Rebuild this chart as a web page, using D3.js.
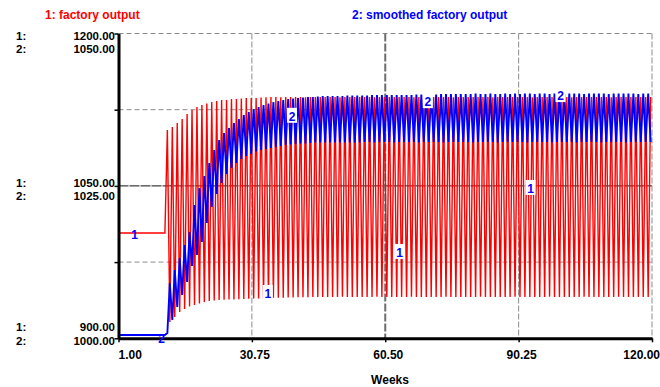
<!DOCTYPE html>
<html>
<head>
<meta charset="utf-8">
<script src="https://cdn.jsdelivr.net/npm/d3@7"></script>
<style>
  body { margin: 0; background: #fff; }
  text { font-family: "Liberation Sans", Arial, sans-serif; font-weight: bold; }
</style>
</head>
<body>
<svg width="660" height="387"></svg>
<script>
// weeks: flat start, then an oscillation sampled every half cycle
const startWeek = 1;
const oscStartWeek = 11.9;
const halfCycle = 0.55;

const xTicks = [1, 30.75, 60.5, 90.25, 120];
const xTickLabels = ['1.00', '30.75', '60.50', '90.25', '120.00'];
const y1Ticks = [1200, 1050, 900];
const y1TickLabels = ['1200.00', '1050.00', '900.00'];
const y2Ticks = [1050, 1025, 1000];
const y2TickLabels = ['1050.00', '1025.00', '1000.00'];

// 1: factory output
const outputInitial = 1003.6;
const outputHighs = [
  1105.0, 1108.0, 1111.9, 1115.8, 1120.7, 1124.6, 1127.6, 1129.6, 1131.1, 1132.6,
  1133.6, 1134.5, 1134.5, 1135.5, 1135.5, 1136.0, 1136.5, 1136.5, 1136.5, 1137.0,
  1137.3, 1137.5, 1137.5, 1137.3, 1137.5, 1137.6, 1137.5, 1137.5, 1137.3, 1137.5,
  1137.5, 1137.6, 1137.5, 1137.5, 1137.5, 1137.3, 1137.5, 1137.5, 1137.6, 1137.5,
  1137.5, 1137.5, 1137.3, 1137.5, 1137.5, 1137.5, 1137.6, 1137.5, 1137.5, 1137.5,
  1137.3, 1137.5, 1137.5, 1137.5, 1137.6, 1137.5, 1137.5, 1137.5, 1137.3, 1137.5,
  1137.5, 1137.5, 1137.6, 1137.5, 1137.5, 1137.5, 1137.3, 1137.5, 1137.5, 1137.5,
  1137.6, 1137.5, 1137.5, 1137.5, 1137.3, 1137.5, 1137.5, 1137.5, 1137.6, 1137.5,
  1137.5, 1137.5, 1137.3, 1137.5, 1137.5, 1137.5, 1137.6, 1137.5, 1137.5, 1137.5,
  1137.3, 1137.5, 1137.5, 1137.5, 1137.6, 1137.5, 1137.5, 1137.5, 1137.5
];
const outputLows = [
  916.0, 921.0, 925.9, 928.8, 931.3, 932.8, 934.3, 935.7, 936.7, 937.2,
  937.7, 937.9, 938.1, 938.3, 938.5, 938.7, 938.9, 939.1, 939.3, 939.5,
  939.7, 939.8, 939.9, 940.0, 940.1, 940.2, 940.3, 940.4, 940.5, 940.6,
  940.7, 940.7, 940.6, 940.7, 940.7, 940.8, 940.7, 940.7, 940.6, 940.7,
  940.7, 940.7, 940.8, 940.7, 940.7, 940.6, 940.7, 940.7, 940.7, 940.8,
  940.7, 940.7, 940.6, 940.7, 940.7, 940.7, 940.8, 940.7, 940.7, 940.6,
  940.7, 940.7, 940.7, 940.8, 940.7, 940.7, 940.6, 940.7, 940.7, 940.7,
  940.8, 940.7, 940.7, 940.6, 940.7, 940.7, 940.7, 940.8, 940.7, 940.7,
  940.6, 940.7, 940.7, 940.7, 940.8, 940.7, 940.7, 940.6, 940.7, 940.7,
  940.7, 940.8, 940.7, 940.7, 940.6, 940.7, 940.7, 940.7
];

// 2: smoothed factory output
const smoothedInitial = 1000.54;
const smoothedLows = [
  1000.87, 1003.00, 1005.13, 1007.10, 1009.23, 1011.86, 1013.66, 1015.80, 1018.91, 1021.54,
  1023.67, 1025.48, 1026.95, 1027.94, 1028.76, 1029.41, 1029.90, 1030.23, 1030.64, 1030.89,
  1031.05, 1031.22, 1031.38, 1031.54, 1031.71, 1031.79, 1031.87, 1031.95, 1031.95, 1032.04,
  1032.12, 1032.12, 1032.12, 1032.12, 1032.12, 1032.12, 1032.12, 1032.12, 1032.12, 1032.12,
  1032.20, 1032.20, 1032.12, 1032.20, 1032.20, 1032.20, 1032.12, 1032.20, 1032.20, 1032.20,
  1032.20, 1032.12, 1032.20, 1032.20, 1032.20, 1032.20, 1032.12, 1032.20, 1032.20, 1032.20,
  1032.20, 1032.20, 1032.12, 1032.20, 1032.20, 1032.20, 1032.20, 1032.12, 1032.20, 1032.20,
  1032.20, 1032.20, 1032.20, 1032.12, 1032.20, 1032.20, 1032.20, 1032.20, 1032.12, 1032.20,
  1032.20, 1032.20, 1032.20, 1032.12, 1032.20, 1032.20, 1032.20, 1032.20, 1032.12, 1032.20,
  1032.20, 1032.20, 1032.20, 1032.12, 1032.20, 1032.20, 1032.20, 1032.20, 1032.20
];
const smoothedHighs = [
  1009.07, 1011.20, 1013.17, 1015.30, 1017.44, 1021.87, 1024.66, 1026.63, 1028.76, 1030.89,
  1032.53, 1033.68, 1034.50, 1035.32, 1035.97, 1036.63, 1037.12, 1037.61, 1037.94, 1038.27,
  1038.52, 1038.76, 1038.93, 1039.09, 1039.26, 1039.34, 1039.42, 1039.50, 1039.58, 1039.58,
  1039.67, 1039.75, 1039.75, 1039.75, 1039.75, 1039.75, 1039.83, 1039.83, 1039.83, 1039.83,
  1039.83, 1039.91, 1039.91, 1039.91, 1039.91, 1039.91, 1039.91, 1039.91, 1039.91, 1039.91,
  1039.99, 1039.99, 1039.99, 1039.99, 1039.99, 1040.07, 1040.07, 1040.07, 1040.07, 1040.07,
  1040.07, 1040.07, 1040.16, 1040.07, 1040.07, 1040.16, 1040.07, 1040.07, 1040.16, 1040.07,
  1040.16, 1040.07, 1040.16, 1040.16, 1040.07, 1040.16, 1040.16, 1040.07, 1040.16, 1040.16,
  1040.07, 1040.16, 1040.16, 1040.16, 1040.07, 1040.16, 1040.16, 1040.16, 1040.16, 1040.07,
  1040.16, 1040.16, 1040.16, 1040.16, 1040.16, 1040.07, 1040.16, 1040.16
];

// series markers ("1"/"2") drawn on the curves
const label1Weeks = [4.6, 34.3, 63.7, 92.9];
const label1Values = [1003.0, 944.6, 985.0, 1048.0];
const label2Weeks = [10.6, 39.7, 70.0, 99.6];
const label2Values = [1000.0, 1036.5, 1038.9, 1039.9];

const red = '#ff0000';
const blue = '#0000ff';

const svg = d3.select('svg');

const x = d3.scaleLinear().domain([1, 120]).range([118.5, 652]);
const y1 = d3.scaleLinear().domain([900, 1200]).range([338.3, 33.5]);
const y2 = d3.scaleLinear().domain([1000, 1050]).range([338.3, 33.5]);

const interleave = (a, b) => {
    const out = [];
    for (let i = 0; i < a.length; i++) {
        out.push(a[i]);
        if (i < b.length) out.push(b[i]);
    }
    return out;
};

const buildSeries = (initial, vals) => {
    const pts = [[startWeek, initial], [oscStartWeek - halfCycle, initial]];
    vals.forEach((v, i) => pts.push([oscStartWeek + i * halfCycle, v]));
    return pts;
};

const outputSeries = buildSeries(outputInitial, interleave(outputHighs, outputLows));
const smoothedSeries = buildSeries(smoothedInitial, interleave(smoothedLows, smoothedHighs));

// grid
const grid = svg.append('g');
[1125, 975].forEach(v => {
    grid.append('line')
        .attr('x1', x(1)).attr('x2', x(120))
        .attr('y1', y1(v)).attr('y2', y1(v))
        .attr('stroke', '#8c8c8c').attr('stroke-dasharray', '5,3');
});
grid.append('line')
    .attr('x1', x(1)).attr('x2', x(120))
    .attr('y1', y1(1200)).attr('y2', y1(1200))
    .attr('stroke', '#8c8c8c').attr('stroke-dasharray', '5,3');
grid.append('line')
    .attr('x1', x(1)).attr('x2', x(120))
    .attr('y1', y1(1050)).attr('y2', y1(1050))
    .attr('stroke', '#111').attr('stroke-dasharray', '10,1');
[30.75, 90.25, 120].forEach(v => {
    grid.append('line')
        .attr('x1', x(v)).attr('x2', x(v))
        .attr('y1', y1(1200)).attr('y2', y1(900))
        .attr('stroke', '#8c8c8c').attr('stroke-dasharray', '6,2');
});
grid.append('line')
    .attr('x1', x(60.5)).attr('x2', x(60.5))
    .attr('y1', y1(1200)).attr('y2', y1(900))
    .attr('stroke', '#6e6e6e').attr('stroke-width', 2).attr('stroke-dasharray', '8,2');

// lines
const line = y => d3.line().x(d => x(d[0])).y(d => y(d[1]));

svg.append('path')
    .datum(outputSeries)
    .attr('fill', 'none')
    .attr('stroke', red)
    .attr('stroke-width', 1.4)
    .attr('d', line(y1));

svg.append('path')
    .datum(smoothedSeries)
    .attr('fill', 'none')
    .attr('stroke', blue)
    .attr('stroke-width', 1.9)
    .attr('d', line(y2));

// axes
svg.append('g')
    .attr('transform', `translate(${x(1)},0)`)
    .call(d3.axisLeft(y1).tickValues(y1Ticks.concat([1125, 975])).tickSize(4).tickSizeOuter(0).tickFormat(''))
    .call(g => g.select('.domain').attr('stroke-width', 3))
    .call(g => g.selectAll('.tick line').attr('stroke-width', 1.5));

svg.append('g')
    .attr('transform', `translate(0,${y1(900)})`)
    .call(d3.axisBottom(x).tickValues(xTicks).tickSize(4).tickSizeOuter(0).tickFormat(''))
    .call(g => g.select('.domain').attr('stroke-width', 3))
    .call(g => g.selectAll('.tick line').attr('stroke-width', 1.5));

// left tick labels, two rows per tick
const rowOffsets = [[6, 19.5], [1.4, 13.9], [-7, 6.4]];
y1Ticks.forEach((v, i) => {
    const ty = y1(v);
    svg.append('text').attr('x', 16).attr('y', ty + rowOffsets[i][0]).attr('font-size', 11.5).text('1:');
    svg.append('text').attr('x', 16).attr('y', ty + rowOffsets[i][1]).attr('font-size', 11.5).text('2:');
    svg.append('text').attr('x', 115).attr('y', ty + rowOffsets[i][0]).attr('font-size', 11.5)
        .attr('text-anchor', 'end').text(y1TickLabels[i]);
    svg.append('text').attr('x', 115).attr('y', ty + rowOffsets[i][1]).attr('font-size', 11.5)
        .attr('text-anchor', 'end').text(y2TickLabels[i]);
});

// bottom tick labels
xTicks.forEach((v, i) => {
    const t = svg.append('text').attr('y', 359).attr('font-size', 12).text(xTickLabels[i]);
    if (i === 0) t.attr('x', x(v)).attr('text-anchor', 'start');
    else if (i === xTicks.length - 1) t.attr('x', 660).attr('text-anchor', 'end');
    else t.attr('x', x(v) + 3).attr('text-anchor', 'middle');
});
svg.append('text').attr('x', 390).attr('y', 384).attr('font-size', 12)
    .attr('text-anchor', 'middle').text('Weeks');

// legend
svg.append('text').attr('x', 45).attr('y', 19).attr('font-size', 12).attr('fill', red).text('1: factory output');
svg.append('text').attr('x', 352).attr('y', 19).attr('font-size', 12).attr('fill', blue).text('2: smoothed factory output');

// curve markers
const marker = (wk, yv, txt, boxed) => {
    const cx = x(wk), cy = yv;
    if (boxed) {
        svg.append('rect').attr('x', cx - 5).attr('y', cy - 8).attr('width', 10).attr('height', 15).attr('fill', '#fff');
    }
    svg.append('text').attr('x', cx).attr('y', cy + 5).attr('font-size', 12)
        .attr('text-anchor', 'middle').attr('fill', blue).text(txt);
};
label1Weeks.forEach((w, i) => marker(w, y1(label1Values[i]), '1', i > 0));
label2Weeks.forEach((w, i) => marker(w, y2(label2Values[i]), '2', i > 0));
</script>
</body>
</html>
